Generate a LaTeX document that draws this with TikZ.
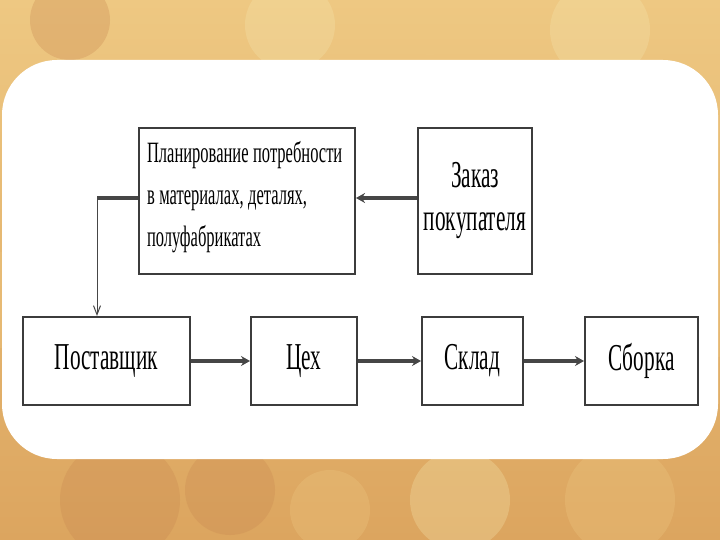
\documentclass[tikz,border=0pt]{standalone}
\usepackage{fontspec}
\setmainfont{Liberation Serif}[FakeStretch=0.56]
\usetikzlibrary{arrows.meta}

\definecolor{bgtan}{RGB}{220,165,95}
\definecolor{bglight}{RGB}{238,200,130}
\definecolor{bgcream}{RGB}{245,230,175}
\definecolor{bgbrown}{RGB}{200,135,80}
\definecolor{boxline}{RGB}{60,60,60}
\definecolor{arrowgray}{RGB}{70,70,70}

\newcommand\planspace{\spaceskip=4.5pt\relax}

\tikzset{
  blockbox/.style={draw=boxline, line width=2pt, fill=white, inner sep=0pt},
  bigtext/.style={font=\fontsize{38}{43}\selectfont},
  flow/.style={draw=arrowgray, line width=3.5pt, -{Stealth[length=9pt, width=10pt, inset=3pt]}},
  feed/.style={draw=arrowgray, line width=1pt, -{Straight Barb[length=9pt, width=7pt]}}
}

\begin{document}
\begin{tikzpicture}[x=1pt, y=-1pt]

		% Background
		\fill[top color=bglight, bottom color=bgtan] (0,0) rectangle (720,540);
		\useasboundingbox (0,0) rectangle (720,540);
		\foreach \cx/\cy/\r/\c in {290/25/45/bgcream, 600/30/50/bgcream, 70/20/40/bgbrown,
		  430/15/40/bglight, 120/500/60/bgbrown, 330/510/40/bglight, 460/500/50/bgcream,
		  620/500/55/bglight, 230/490/45/bgbrown, 700/300/60/bglight, 15/300/50/bglight}
		  \fill[\c, opacity=0.3] (\cx,\cy) circle (\r);

		% White panel
		\fill[white, rounded corners=55pt] (2,60) rectangle (718,459);

		% Draw the boxes
		\node[blockbox, font=\fontsize{29.5}{42}\selectfont, minimum width=216pt, minimum height=146pt, text width=200pt, align=left] (plan) at (247,201)
		  {\planspace Планирование потребности\\в материалах, деталях,\\полуфабрикатах\\[-28pt]\mbox{}};
		\node[blockbox, bigtext, minimum width=114pt, minimum height=146pt, align=center] (order) at (475,201) {Заказ\\покупателя};
		\node[blockbox, bigtext, minimum width=167pt, minimum height=88pt] (supplier) at (106.5,361) {Поставщик};
		\node[blockbox, bigtext, minimum width=106pt, minimum height=88pt] (shop) at (304,361) {Цех};
		\node[blockbox, bigtext, minimum width=101pt, minimum height=88pt] (store) at (472.5,361) {Склад};
		\node[blockbox, bigtext, minimum width=113pt, minimum height=88pt] (assembly) at (641.5,361) {Сборка};

		% Draw the arrows
		\draw[flow] (order.west |- 0,198) -- (plan.east |- 0,198);
		\coordinate (bend) at (97,198);
		\draw[draw=arrowgray, line width=3.5pt] (plan.west |- bend) -- (bend);
		\draw[feed] (bend) -- (supplier.north -| bend);
		\draw[flow] (supplier) -- (shop);
		\draw[flow] (shop) -- (store);
		\draw[flow] (store) -- (assembly);

	\end{tikzpicture}
\end{document}
